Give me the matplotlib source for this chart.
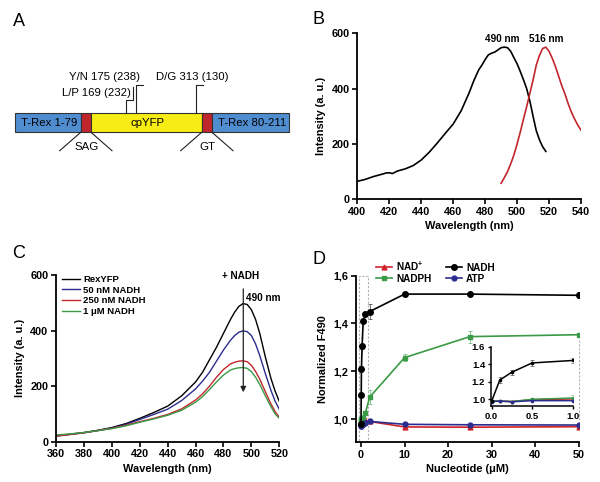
import matplotlib
matplotlib.use("Agg")
import matplotlib.pyplot as plt
from matplotlib.patches import Rectangle
from matplotlib.colors import to_rgba

plt.rcParams['font.family'] = ['Liberation Sans', 'DejaVu Sans']
plt.rcParams['mathtext.fontset'] = 'custom'
plt.rcParams['mathtext.rm'] = 'Liberation Sans:bold'
plt.rcParams['mathtext.bf'] = 'Liberation Sans:bold'
plt.rcParams['mathtext.it'] = 'Liberation Sans:bold'

# ---------------- Panel A data ----------------
a_labels = ["T-Rex 1-79", "", "cpYFP", "", "T-Rex 80-211"]
a_colors = ["#4f8dd0", "#c0272d", "#f7ec13", "#c0272d", "#4f8dd0"]
a_linkers = ["SAG", "GT"]
a_mutations = ["L/P 169 (232)", "Y/N 175 (238)", "D/G 313 (130)"]

# ---------------- Panel B data ----------------
b_ex_wl = [400, 405, 410, 415, 418, 420, 422, 425, 430, 435, 440, 445, 450, 455, 460,
           465, 470, 473, 476, 478, 480, 482, 484, 486, 488, 490, 492, 494, 496, 498,
           500, 502, 504, 506, 508, 510, 512, 514, 516, 518]
b_ex_int = [65, 72, 82, 90, 95, 96, 93, 102, 110, 122, 142, 170, 203, 238, 272,
            320, 385, 430, 468, 485, 505, 522, 528, 532, 540, 548, 550, 548, 535, 512,
            490, 462, 432, 400, 355, 300, 248, 215, 190, 173]
b_em_wl = [490, 492, 494, 496, 498, 500, 502, 504, 506, 508, 510, 512, 514, 516, 518,
           520, 522, 524, 526, 528, 530, 532, 534, 536, 538, 540]
b_em_int = [58, 78, 100, 128, 160, 200, 243, 290, 335, 383, 431, 485, 520, 545, 550,
            535, 510, 480, 445, 410, 380, 345, 315, 290, 268, 250]
b_peaks = [("490 nm", 491), ("516 nm", 518)]

# ---------------- Panel C data ----------------
c_wl = [360, 370, 380, 390, 400, 410, 420, 430, 440, 450, 460, 465, 470, 475, 480,
        485, 488, 491, 494, 497, 500, 503, 506, 510, 514, 517, 520]
c_rexyfp = [22, 27, 33, 41, 51, 65, 84, 105, 128, 165, 215, 250, 295, 340, 390,
            440, 466, 487, 497, 494, 475, 440, 390, 305, 228, 182, 145]
c_50nm = [20, 26, 32, 40, 49, 62, 80, 98, 117, 148, 190, 218, 250, 290, 330,
          365, 382, 394, 399, 396, 382, 352, 310, 245, 185, 146, 117]
c_250nm = [20, 26, 32, 40, 48, 59, 72, 84, 98, 118, 150, 172, 200, 232, 260,
           280, 286, 290, 291, 288, 275, 253, 225, 180, 136, 108, 88]
c_1um = [24, 28, 33, 40, 47, 57, 70, 82, 95, 113, 142, 162, 188, 215, 240,
         258, 263, 266, 267, 264, 252, 232, 206, 165, 126, 100, 84]
c_series_names = ["RexYFP", "50 nM NADH", "250 nM NADH", "1 \u03bcM NADH"]

# ---------------- Panel D data ----------------
d_conc = [0, 0.05, 0.1, 0.25, 0.5, 1, 2, 10, 25, 50]
d_nadh = [0.98, 1.10, 1.21, 1.305, 1.41, 1.44, 1.45, 1.523, 1.523, 1.518]
d_nadh_err = [0.01, 0.005, 0.01, 0.01, 0.01, 0.01, 0.03, 0.008, 0.005, 0.012]
d_nadph = [1.0, 0.995, 0.99, 1.0, 1.005, 1.025, 1.092, 1.257, 1.345, 1.353]
d_nadph_err = [0.01, 0.01, 0.01, 0.01, 0.01, 0.01, 0.03, 0.016, 0.025, 0.005]
d_nad = [0.98, 0.985, 0.99, 0.99, 0.995, 0.995, 0.99, 0.967, 0.966, 0.968]
d_nad_err = [0.01, 0.01, 0.01, 0.01, 0.01, 0.01, 0.005, 0.006, 0.006, 0.006]
d_atp = [0.975, 0.97, 0.975, 0.975, 0.98, 0.985, 0.99, 0.978, 0.976, 0.975]
d_atp_err = [0.01, 0.01, 0.01, 0.01, 0.01, 0.01, 0.005, 0.005, 0.005, 0.005]

inset_conc = [0, 0.1, 0.25, 0.5, 1.0]
inset_nadh = [0.98, 1.22, 1.31, 1.415, 1.443]
inset_nadh_err = [0.01, 0.03, 0.03, 0.03, 0.03]
inset_nadph = [0.98, 0.98, 0.975, 1.0, 1.015]
inset_nadph_err = [0.01, 0.01, 0.01, 0.01, 0.03]
inset_nad = [0.98, 0.98, 0.975, 0.995, 1.005]
inset_atp = [0.975, 0.98, 0.972, 0.985, 0.985]

d_yticks = [1.0, 1.2, 1.4, 1.6]
d_xticks = [0, 10, 20, 30, 40, 50]

W, H = 600, 482
fig = plt.figure(figsize=(6, 4.82), dpi=100)


def px_axes(left, top, right, bottom):
    return fig.add_axes([left / W, 1 - bottom / H, (right - left) / W, (bottom - top) / H])


# overlay in pixel coordinates
ov = fig.add_axes([0, 0, 1, 1])
ov.set_xlim(0, W)
ov.set_ylim(H, 0)
ov.axis('off')
ov.patch.set_alpha(0)

TICK_FS = 7.8
LAB_FS = 7.9
A_FS = 8.2


def style(ax, fs=TICK_FS):
    for s in ['top', 'right']:
        ax.spines[s].set_visible(False)
    for s in ['left', 'bottom']:
        ax.spines[s].set_linewidth(1.3)
    ax.tick_params(direction='out', length=3.5, width=1.2, labelsize=fs, pad=2)
    for t in ax.get_xticklabels() + ax.get_yticklabels():
        t.set_fontweight('bold')


# ---------------- Panel A ----------------
bounds = [15.3, 80.7, 91, 201.7, 212, 289.3]
bar_top, bar_bot = 113.3, 132.3
for i, (lab, col) in enumerate(zip(a_labels, a_colors)):
    ov.add_patch(Rectangle((bounds[i], bar_top), bounds[i + 1] - bounds[i], bar_bot - bar_top,
                           facecolor=col, edgecolor='#333333', lw=0.8))
    if lab:
        ov.text((bounds[i] + bounds[i + 1]) / 2 + 1.5, (bar_top + bar_bot) / 2 + 0.5, lab,
                ha='center', va='center', fontsize=A_FS)
# linkers
for lab, (l, r) in zip(a_linkers, [(bounds[1], bounds[2]), (bounds[3], bounds[4])]):
    ov.plot([l, l - 21], [bar_bot, 150.7], color='#222222', lw=0.8)
    ov.plot([r, r + 21], [bar_bot, 150.7], color='#222222', lw=0.8)
    ov.text((l + r) / 2 + 1, 146.5, lab, ha='center', va='center', fontsize=A_FS)
# mutations
ov.text(131, 93, a_mutations[0], ha='right', va='center', fontsize=A_FS)
ov.plot([132.8, 132.8, 126, 126], [87, 100, 100, bar_top], color='#222222', lw=0.8)
ov.text(104.5, 77.5, a_mutations[1], ha='center', va='center', fontsize=A_FS)
ov.plot([142.5, 136, 136], [85, 85, bar_top], color='#222222', lw=0.8)
ov.text(191.8, 77.5, a_mutations[2], ha='center', va='center', fontsize=A_FS)
ov.plot([202.5, 196, 196], [85, 85, bar_top], color='#222222', lw=0.8)

# panel letters
for letter, (x, y) in zip("ABCD", [(19, 22), (319, 20), (19, 253), (319, 260)]):
    ov.text(x, y, letter, ha='center', va='center', fontsize=13)

# ---------------- Panel B ----------------
axb = px_axes(357.3, 33.3, 581, 199.3)
axb.plot(b_ex_wl, b_ex_int, color='black', lw=1.2)
axb.plot(b_em_wl, b_em_int, color='#c1272d', lw=1.2)
axb.set_xlim(400, 540)
axb.set_ylim(0, 600)
axb.set_xticks(range(400, 541, 20))
axb.set_yticks([0, 200, 400, 600])
for lab, x in b_peaks:
    axb.text(x, 578, lab, ha='center', va='center', fontsize=7.2, fontweight='bold')
axb.set_xlabel("Wavelength (nm)", fontsize=LAB_FS, fontweight='bold', labelpad=3)
axb.set_ylabel("Intensity (a. u.)", fontsize=LAB_FS, fontweight='bold', labelpad=4)
style(axb)

# ---------------- Panel C ----------------
axc = px_axes(56, 275, 279.3, 441.7)
c_cols = ['black', '#2b2d8e', '#c1272d', '#3a9a45']
for ys, col, name in zip([c_rexyfp, c_50nm, c_250nm, c_1um], c_cols, c_series_names):
    axc.plot(c_wl, ys, color=col, lw=1.0, label=name)
axc.set_xlim(360, 520)
axc.set_ylim(0, 600)
axc.set_xticks(range(360, 521, 20))
axc.set_yticks([0, 200, 400, 600])
axc.annotate("", xy=(494.2, 168), xytext=(494.2, 560),
             arrowprops=dict(arrowstyle='-|>', color='#222222', lw=0.9, mutation_scale=8))
axc.text(492.3, 596, "+ NADH", ha='center', va='center', fontsize=7.2, fontweight='bold')
axc.text(496.3, 517, "490 nm", ha='left', va='center', fontsize=7.2, fontweight='bold')
leg = axc.legend(loc='upper left', bbox_to_anchor=(0.025, 1.0), frameon=False,
                 prop={'size': 6.8, 'weight': 'bold'}, handlelength=2.0, handletextpad=0.3,
                 labelspacing=0.18, borderpad=0, borderaxespad=0)
axc.set_xlabel("Wavelength (nm)", fontsize=LAB_FS, fontweight='bold', labelpad=3)
axc.set_ylabel("Intensity (a. u.)", fontsize=LAB_FS, fontweight='bold', labelpad=4)
style(axc)

# ---------------- Panel D ----------------
axd = px_axes(356, 275.7, 578.7, 442)
d_specs = [
    (d_nad, d_nad_err, '#d1232a', '^', r'NAD$^{+}$'),
    (d_nadph, d_nadph_err, '#3a9a45', 's', 'NADPH'),
    (d_atp, d_atp_err, '#2b2d8e', 'o', 'ATP'),
    (d_nadh, d_nadh_err, 'black', 'o', 'NADH'),
]
handles = {}
for ys, es, col, mk, name in d_specs:
    ms = 4 if name == 'NADH' else 3.5
    ln, = axd.plot(d_conc, ys, color=col, marker=mk, ms=ms, lw=1.2, label=name)
    axd.errorbar(d_conc, ys, yerr=es, fmt='none', ecolor=to_rgba(col, 0.55),
                 elinewidth=0.7, capsize=1.6, capthick=0.7)
    handles[name] = ln
axd.set_xlim(-1.15, 50)
axd.set_ylim(0.904, 1.6)
axd.set_xticks(d_xticks)
axd.set_yticks(d_yticks)
axd.set_yticklabels([f"{v:.1f}".replace('.', ',') for v in d_yticks])
axd.set_xlabel("Nucleotide (\u03bcM)", fontsize=LAB_FS, fontweight='bold', labelpad=3)
axd.set_ylabel("Normalized F490", fontsize=LAB_FS, fontweight='bold', labelpad=4)
style(axd)
order = [r'NAD$^{+}$', 'NADPH', 'NADH', 'ATP']
legd = fig.legend([handles[k] for k in order], order, ncol=2, loc='upper left',
                  bbox_to_anchor=(376 / W, 1 - 259.5 / H), frameon=False,
                  prop={'size': 7.2, 'weight': 'bold'}, handlelength=1.6,
                  handletextpad=0.45, columnspacing=1.4, labelspacing=0.1,
                  borderpad=0, borderaxespad=0)

# zoom box in main D axes
axd.add_patch(Rectangle((-0.46, 0.906), 2.14, 0.694, fill=False, ls=(0, (2, 1.5)),
                        ec='#b0b0b0', lw=0.8, clip_on=False, zorder=0.5))
# inset dashed box and connector (figure pixels)
ov.add_patch(Rectangle((475, 339.3), 104.3, 80.7, fill=False, ls=(0, (2, 1.5)),
                       ec='#b0b0b0', lw=0.8))
ov.plot([368.3, 475], [440, 420], color='#a0a0a0', lw=0.8)

# inset
axi = px_axes(490.7, 346.7, 572.7, 406)
for ys, es, col, mk in [(inset_nad, None, '#d1232a', '^'),
                        (inset_nadph, inset_nadph_err, '#3a9a45', 's'),
                        (inset_atp, None, '#2b2d8e', 'o'),
                        (inset_nadh, inset_nadh_err, 'black', 'o')]:
    axi.plot(inset_conc, ys, color=col, lw=1.1, marker=mk, ms=1.6)
    if es is not None:
        axi.errorbar(inset_conc, ys, yerr=es, fmt='none', ecolor=to_rgba(col, 0.55),
                     elinewidth=0.6, capsize=1.4, capthick=0.6)
axi.set_xlim(-0.012, 1.0)
axi.set_ylim(0.924, 1.6)
axi.set_xticks([0.0, 0.5, 1.0])
axi.set_yticks([1.0, 1.2, 1.4, 1.6])
axi.patch.set_alpha(0)
style(axi, fs=6.8)
axi.tick_params(length=2.5, width=1.0, pad=1.5)
for s in ['left', 'bottom']:
    axi.spines[s].set_linewidth(1.1)

fig.savefig("out.png", dpi=100)
